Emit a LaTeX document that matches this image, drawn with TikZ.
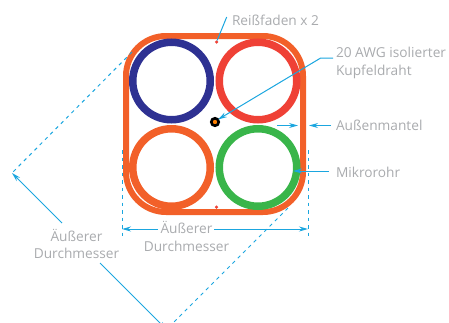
\documentclass[tikz,border=0pt]{standalone}
\usepackage{fontspec}
\setmainfont{Open Sans}
\usetikzlibrary{arrows.meta}
\definecolor{sheathorange}{HTML}{F26029}
\definecolor{tubeblue}{HTML}{2E3192}
\definecolor{tubered}{HTML}{EF4136}
\definecolor{tubegreen}{HTML}{39B54A}
\definecolor{leaderblue}{HTML}{1BA6DF}
\definecolor{labelgrey}{HTML}{A9ABAE}
\begin{document}
\begin{tikzpicture}[
    x=1pt, y=-1pt,
    every node/.style={inner sep=0pt, outer sep=0pt},
    tube/.style={circle, draw, line width=7.5pt, minimum size=77.5pt},
    strand/.style={circle, fill=tubered, minimum size=3.5pt},
    tag/.style={text=labelgrey, font=\fontsize{13.7}{17.5}\selectfont, align=left},
    leader/.style={draw=leaderblue, line width=1pt},
    tipped/.style={leader, -{Stealth[length=9pt, width=5pt]}},
    limit/.style={draw=leaderblue, line width=1pt, dash pattern=on 3.5pt off 4pt}
]
\clip (0,0) rectangle (449,322);
% sheath and tubes
\node[draw=sheathorange, line width=6pt, minimum width=177pt, minimum height=176pt,
    rounded corners=40pt] (sheath) at (214.5,124) {};
\node[tube, draw=tubeblue] (blue) at (171.5,81) {};
\node[tube, draw=tubered] (red) at (258,81) {};
\node[tube, draw=sheathorange] (orange) at (171.5,167.5) {};
\node[tube, draw=tubegreen] (green) at (258,167.5) {};
\node[circle, fill=orange, draw=black, line width=2.6pt, minimum size=7.5pt] (wire) at (215,122) {};
\node[strand] (ripTop) at (216.5,42) {};
\node[strand] (ripBottom) at (216.5,207) {};
% labels
\node[tag, anchor=west] (ripLabel) at (232,20) {Reißfaden x 2};
\node[tag, anchor=west] (wireLabel) at (336,63) {20 AWG isolierter\\Kupfeldraht};
\node[tag, anchor=west] (jacketLabel) at (336,125.5) {Außenmantel};
\node[tag, anchor=west] (tubeLabel) at (336,172) {Mikrorohr};
\node[tag, align=center] (dimLabel) at (186.5,236.5) {Äußerer\\Durchmesser};
\node[tag, align=center] (diagLabel) at (76.5,244) {Äußerer\\Durchmesser};
% free ends
\coordinate (ripStart) at (226.7,17);
\coordinate (wireStart) at (333,58);
\coordinate (wireBend) at (320.7,58);
\coordinate (wireTip) at (218,119.5);
\coordinate (jacketA) at (331,125.5);
\coordinate (jacketB) at (309,125.5);
\coordinate (jacketC) at (277,125.5);
\coordinate (jacketD) at (298,125.5);
\coordinate (tubeStart) at (329,171);
\coordinate (tubeTip) at (293,171);
\coordinate (dimL) at (122,229);
\coordinate (dimLs) at (158,229);
\coordinate (dimR) at (308,229);
\coordinate (dimRs) at (214,229);
\coordinate (limLtop) at (122,150);
\coordinate (limLbot) at (122,236);
\coordinate (limRtop) at (308,150);
\coordinate (limRbot) at (308,236);
\coordinate (diagA) at (12,173);
\coordinate (diagAs) at (62,223);
\coordinate (diagB) at (167,330);
\coordinate (diagBs) at (100,263);
\coordinate (limAtop) at (132,52);
\coordinate (limAbot) at (12,173);
\coordinate (limBtop) at (288,208);
\coordinate (limBbot) at (167,329);
% connectors
\draw[leader] (ripStart) -- (ripTop);
\draw[tipped] (wireStart) -- (wireBend) -- (wireTip);
\draw[tipped] (jacketA) -- (jacketB);
\draw[tipped] (jacketC) -- (jacketD);
\draw[tipped] (tubeStart) -- (tubeTip);
\draw[tipped] (dimLs) -- (dimL);
\draw[tipped] (dimRs) -- (dimR);
\draw[tipped] (diagAs) -- (diagA);
\draw[tipped] (diagBs) -- (diagB);
\draw[limit] (limLtop) -- (limLbot);
\draw[limit] (limRtop) -- (limRbot);
\draw[limit] (limAtop) -- (limAbot);
\draw[limit] (limBtop) -- (limBbot);
\end{tikzpicture}
\end{document}
